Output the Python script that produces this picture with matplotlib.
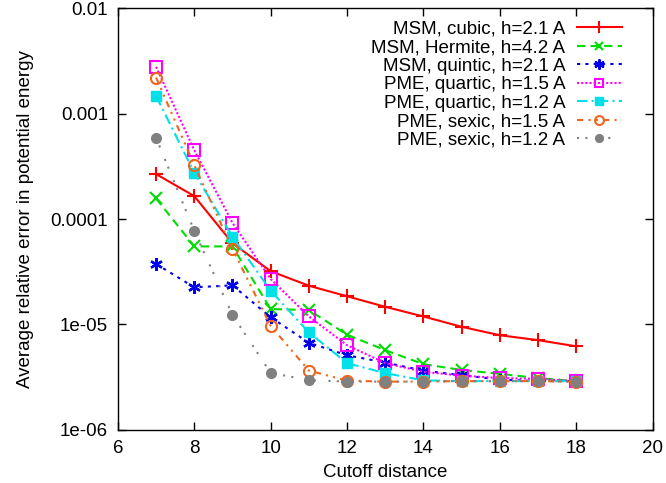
import matplotlib
matplotlib.use("Agg")
import matplotlib.pyplot as plt
from matplotlib.ticker import FixedLocator, NullLocator

plt.rcParams['font.family'] = ['Liberation Sans', 'DejaVu Sans']

cutoff = [7, 8, 9, 10, 11, 12, 13, 14, 15, 16, 17, 18]

labels = [
    "MSM, cubic, h=2.1 A",
    "MSM, Hermite, h=4.2 A",
    "MSM, quintic, h=2.1 A",
    "PME, quartic, h=1.5 A",
    "PME, quartic, h=1.2 A",
    "PME, sexic, h=1.5 A",
    "PME, sexic, h=1.2 A",
]

msm_cubic = [2.67e-4, 1.65e-4, 5.9e-5, 3.2e-5, 2.33e-5, 1.85e-5, 1.47e-5, 1.19e-5, 9.5e-6, 7.9e-6, 7.1e-6, 6.2e-6]
msm_hermite = [1.57e-4, 5.5e-5, 5.5e-5, 1.4e-5, 1.37e-5, 8.0e-6, 5.7e-6, 4.2e-6, 3.7e-6, 3.4e-6, 3.1e-6, 2.9e-6]
msm_quintic = [3.75e-5, 2.25e-5, 2.35e-5, 1.17e-5, 6.7e-6, 5.1e-6, 4.35e-6, 3.65e-6, 3.3e-6, 3.0e-6, 2.9e-6, 2.9e-6]
pme_quartic_15 = [2.78e-3, 4.5e-4, 9.2e-5, 2.7e-5, 1.19e-5, 6.35e-6, 4.3e-6, 3.55e-6, 3.27e-6, 3.1e-6, 3.05e-6, 2.9e-6]
pme_quartic_12 = [1.47e-3, 2.75e-4, 6.8e-5, 2.09e-5, 8.4e-6, 4.3e-6, 3.45e-6, 2.95e-6, 2.9e-6, 2.9e-6, 2.9e-6, 2.9e-6]
pme_sexic_15 = [2.2e-3, 3.25e-4, 5.2e-5, 9.7e-6, 3.65e-6, 2.93e-6, 2.87e-6, 2.87e-6, 2.9e-6, 2.9e-6, 2.9e-6, 2.87e-6]
pme_sexic_12 = [5.9e-4, 7.7e-5, 1.23e-5, 3.47e-6, 2.96e-6, 2.87e-6, 2.87e-6, 2.87e-6, 2.9e-6, 2.9e-6, 2.9e-6, 2.87e-6]

x_ticks = [6, 8, 10, 12, 14, 16, 18, 20]
y_ticks = [1e-6, 1e-5, 1e-4, 1e-3, 1e-2]
y_tick_labels = ["1e-06", "1e-05", "0.0001", "0.001", "0.01"]

series = [msm_cubic, msm_hermite, msm_quintic, pme_quartic_15, pme_quartic_12, pme_sexic_15, pme_sexic_12]
styles = [
    dict(color="#ff0000", ls="-", marker="+", ms=10, mew=1.5, mfc="none"),
    dict(color="#00dd00", ls=(0, (4, 2.5)), marker="x", ms=8, mew=1.5, mfc="none"),
    dict(color="#0000ee", ls=(0, (1.5, 2.5)), marker=(6, 2, 0), ms=9, mew=1.7, mfc="none"),
    dict(color="#ff00ff", ls=(0, (1, 1)), marker="s", ms=8, mew=1.5, mfc="none"),
    dict(color="#00e0e8", ls=(0, (5, 2, 1, 2)), marker="s", ms=7, mew=1.0, mfc="#00e0e8"),
    dict(color="#f0641e", ls=(0, (3, 2.5, 1, 2.5, 1, 2.5)), marker="o", ms=8, mew=1.5, mfc="none"),
    dict(color="#808080", ls=(0, (1, 3, 1, 6)), marker="o", ms=7, mew=1.0, mfc="#808080"),
]

fs = 13.5

fig = plt.figure(figsize=(6.66, 4.83), dpi=100)
ax = fig.add_axes([0.177, 0.110, 0.803, 0.873])

for data, lab, st in zip(series, labels, styles):
    ax.plot(cutoff, data, label=lab, lw=1.5, **st)

ax.set_yscale("log")
ax.set_xlim(6, 20)
ax.set_ylim(1e-6, 1e-2)
ax.xaxis.set_major_locator(FixedLocator(x_ticks))
ax.yaxis.set_major_locator(FixedLocator(y_ticks))
ax.yaxis.set_minor_locator(NullLocator())
ax.set_yticklabels(y_tick_labels)
ax.tick_params(direction="in", length=6, width=1.0, top=True, right=True, labelsize=fs, pad=7)
for s in ax.spines.values():
    s.set_linewidth(1.0)

ax.set_xlabel("Cutoff distance", fontsize=fs, labelpad=5)
ax.set_ylabel("Average relative error in potential energy", fontsize=fs, labelpad=12)

leg = ax.legend(loc="upper right", frameon=False, markerfirst=False, numpoints=1,
                fontsize=fs, handlelength=2.4, handletextpad=0.6, labelspacing=0.07,
                borderaxespad=0.0, bbox_to_anchor=(0.956, 0.988), markerscale=0.8)

fig.savefig("out.png", dpi=100)
